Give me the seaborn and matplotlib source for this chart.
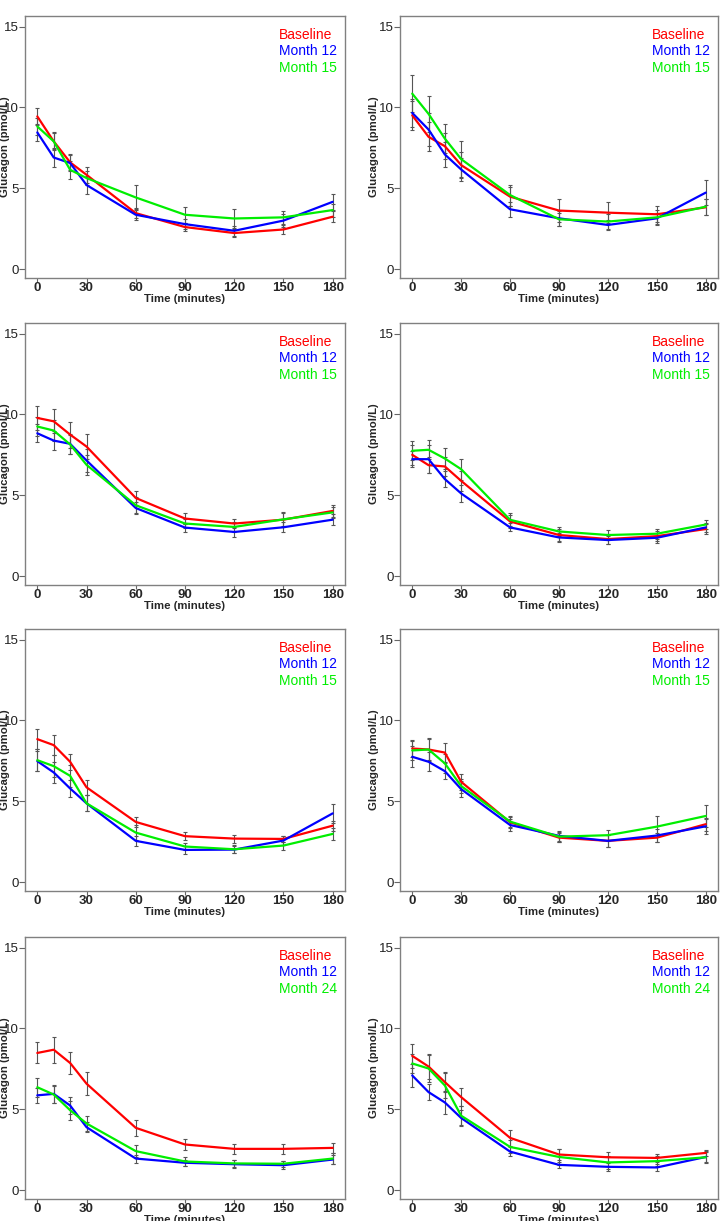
import numpy as np
import pandas as pd
import matplotlib
matplotlib.use('Agg')
import matplotlib.pyplot as plt
import seaborn as sns

sns.set_style('white')
plt.rcParams['font.family'] = ['Liberation Sans', 'DejaVu Sans']

# sampling times (minutes)
times = [0, 10, 20, 30, 60, 90, 120, 150, 180]
xticks = [0, 30, 60, 90, 120, 150, 180]

# mean glucagon per panel (pmol/L)
p1_base = [9.44, 7.9, 6.6, 5.83, 3.46, 2.6, 2.23, 2.45, 3.24]
p1_m12 = [8.45, 6.9, 6.56, 5.2, 3.36, 2.78, 2.37, 3.0, 4.16]
p1_m3 = [8.82, 7.9, 6.14, 5.63, 4.43, 3.36, 3.13, 3.2, 3.65]

p2_base = [9.51, 8.18, 7.6, 6.43, 4.48, 3.62, 3.49, 3.39, 3.82]
p2_m12 = [9.66, 8.63, 7.09, 6.16, 3.7, 3.14, 2.73, 3.14, 4.73]
p2_m3 = [10.85, 9.6, 8.07, 6.8, 4.58, 3.08, 2.94, 3.2, 3.86]

p3_base = [9.78, 9.57, 8.75, 8.01, 4.83, 3.56, 3.25, 3.49, 4.03]
p3_m12 = [8.83, 8.38, 8.18, 7.15, 4.21, 3.0, 2.73, 3.02, 3.49]
p3_m3 = [9.25, 9.0, 8.14, 6.88, 4.38, 3.25, 3.04, 3.51, 3.94]

p4_base = [7.5, 6.86, 6.78, 5.89, 3.38, 2.54, 2.29, 2.47, 2.91]
p4_m12 = [7.23, 7.23, 6.0, 5.11, 3.01, 2.39, 2.23, 2.37, 3.01]
p4_m3 = [7.75, 7.81, 7.27, 6.61, 3.48, 2.76, 2.54, 2.62, 3.19]

p5_base = [8.84, 8.47, 7.44, 5.86, 3.72, 2.84, 2.69, 2.67, 3.49]
p5_m12 = [7.48, 6.78, 5.79, 4.87, 2.55, 1.99, 2.01, 2.57, 4.25]
p5_m3 = [7.54, 7.17, 6.57, 4.87, 3.06, 2.2, 2.03, 2.26, 2.98]

p6_base = [8.26, 8.2, 8.01, 6.2, 3.7, 2.75, 2.55, 2.75, 3.58]
p6_m12 = [7.75, 7.44, 6.86, 5.75, 3.53, 2.86, 2.55, 2.88, 3.45]
p6_m3 = [8.14, 8.2, 7.34, 5.94, 3.74, 2.81, 2.9, 3.43, 4.09]

p7_base = [8.48, 8.68, 7.86, 6.58, 3.85, 2.82, 2.55, 2.55, 2.61]
p7_m12 = [5.86, 5.95, 5.23, 3.89, 1.95, 1.69, 1.6, 1.54, 1.89]
p7_m3 = [6.36, 5.91, 4.94, 4.12, 2.41, 1.77, 1.65, 1.63, 1.95]

p8_base = [8.3, 7.64, 6.68, 5.75, 3.23, 2.2, 2.03, 1.99, 2.3]
p8_m12 = [7.09, 6.06, 5.42, 4.46, 2.38, 1.56, 1.44, 1.4, 2.05]
p8_m3 = [7.83, 7.52, 6.47, 4.6, 2.67, 2.05, 1.71, 1.79, 2.03]

# standard errors
e1_base = [0.55, 0.5, 0.5, 0.5, 0.3, 0.25, 0.25, 0.25, 0.35]
e1_m12 = [0.5, 0.6, 0.5, 0.55, 0.35, 0.3, 0.3, 0.4, 0.5]
e1_m3 = [0.55, 0.55, 0.55, 0.45, 0.75, 0.5, 0.6, 0.4, 0.4]

e2_base = [0.9, 0.9, 0.8, 0.8, 0.6, 0.7, 0.65, 0.5, 0.5]
e2_m12 = [0.85, 1.0, 0.8, 0.7, 0.45, 0.45, 0.3, 0.35, 0.75]
e2_m3 = [1.15, 1.1, 0.9, 1.1, 0.65, 0.4, 0.45, 0.45, 0.5]

e3_base = [0.75, 0.75, 0.8, 0.75, 0.45, 0.35, 0.3, 0.45, 0.35]
e3_m12 = [0.55, 0.6, 0.6, 0.7, 0.4, 0.25, 0.3, 0.3, 0.35]
e3_m3 = [0.6, 0.65, 0.6, 0.6, 0.5, 0.3, 0.3, 0.4, 0.35]

e4_base = [0.6, 0.5, 0.6, 0.6, 0.4, 0.35, 0.3, 0.3, 0.3]
e4_m12 = [0.5, 0.85, 0.5, 0.55, 0.25, 0.3, 0.25, 0.3, 0.3]
e4_m3 = [0.6, 0.6, 0.65, 0.65, 0.4, 0.3, 0.3, 0.3, 0.3]

e5_base = [0.6, 0.6, 0.5, 0.45, 0.3, 0.25, 0.25, 0.2, 0.3]
e5_m12 = [0.6, 0.65, 0.5, 0.5, 0.3, 0.25, 0.2, 0.3, 0.6]
e5_m3 = [0.7, 0.7, 0.7, 0.5, 0.45, 0.2, 0.25, 0.25, 0.35]

e6_base = [0.55, 0.65, 0.6, 0.5, 0.35, 0.3, 0.35, 0.3, 0.4]
e6_m12 = [0.65, 0.6, 0.5, 0.5, 0.4, 0.3, 0.35, 0.4, 0.45]
e6_m3 = [0.6, 0.7, 0.6, 0.45, 0.35, 0.3, 0.35, 0.65, 0.7]

e7_base = [0.65, 0.8, 0.7, 0.7, 0.48, 0.37, 0.33, 0.3, 0.3]
e7_m12 = [0.45, 0.55, 0.55, 0.3, 0.25, 0.2, 0.25, 0.25, 0.25]
e7_m3 = [0.6, 0.5, 0.6, 0.45, 0.35, 0.25, 0.2, 0.2, 0.35]

e8_base = [0.75, 0.75, 0.6, 0.55, 0.5, 0.35, 0.3, 0.25, 0.2]
e8_m12 = [0.7, 0.5, 0.7, 0.5, 0.3, 0.2, 0.25, 0.2, 0.35]
e8_m3 = [0.6, 0.85, 0.8, 0.6, 0.4, 0.5, 0.4, 0.3, 0.3]

panels = [
    ('Month 15', p1_base, p1_m12, p1_m3, e1_base, e1_m12, e1_m3),
    ('Month 15', p2_base, p2_m12, p2_m3, e2_base, e2_m12, e2_m3),
    ('Month 15', p3_base, p3_m12, p3_m3, e3_base, e3_m12, e3_m3),
    ('Month 15', p4_base, p4_m12, p4_m3, e4_base, e4_m12, e4_m3),
    ('Month 15', p5_base, p5_m12, p5_m3, e5_base, e5_m12, e5_m3),
    ('Month 15', p6_base, p6_m12, p6_m3, e6_base, e6_m12, e6_m3),
    ('Month 24', p7_base, p7_m12, p7_m3, e7_base, e7_m12, e7_m3),
    ('Month 24', p8_base, p8_m12, p8_m3, e8_base, e8_m12, e8_m3),
]

W, H = 720, 1221
fig = plt.figure(figsize=(W / 100, H / 100), dpi=100)

col_left = [25, 400]
col_width = [320, 318]
ylab_x = [-0.048, -0.066]
row_top = [16, 323, 629, 937]
row_height = 262

for i, (last, base, m12, m3, eb, e12, e3) in enumerate(panels):
    r, c = divmod(i, 2)
    ax = fig.add_axes([col_left[c] / W, 1 - (row_top[r] + row_height) / H,
                       col_width[c] / W, row_height / H])
    groups = ['Baseline', 'Month 12', last]
    df = pd.DataFrame({
        'time': times * 3,
        'glucagon': base + m12 + m3,
        'se': eb + e12 + e3,
        'group': [g for g in groups for _ in times],
    })
    pal = dict(zip(groups, ['#ff0000', '#0000ff', '#00ee00']))

    for g in groups:
        d = df[df['group'] == g]
        ax.errorbar(d['time'], d['glucagon'], yerr=d['se'], fmt='none',
                    ecolor='#555555', elinewidth=0.8, capsize=1.3, capthick=0.8, zorder=1)
    sns.lineplot(data=df, x='time', y='glucagon', hue='group', palette=pal,
                 hue_order=groups, linewidth=1.6, errorbar=None, ax=ax, zorder=3)

    ax.set_xlim(-7.5, 187.5)
    ax.set_ylim(-0.55, 15.65)
    ax.set_xticks(xticks)
    ax.set_yticks([0, 5, 10, 15])
    ax.set_xticklabels([str(t) for t in xticks], fontweight='bold', fontsize=9.5)
    ax.set_yticklabels(['0', '5', '10', '15'], fontsize=9.5, color='#222222')
    ax.set_xlabel('Time (minutes)', fontweight='bold', fontsize=8.2, labelpad=0)
    ax.set_ylabel('Glucagon (pmol/L)', fontweight='bold', fontsize=8.2)
    ax.yaxis.set_label_coords(ylab_x[c], 0.5)
    ax.tick_params(axis='x', bottom=True, length=3, width=0.8, color='#666666', pad=0)
    ax.tick_params(axis='y', left=True, length=4, width=0.8, color='#666666', pad=0.5)
    for s in ax.spines.values():
        s.set_color('#808080')
        s.set_linewidth(1.0)

    leg = ax.legend(loc='upper right', bbox_to_anchor=(1.0, 0.985), frameon=False,
                    handlelength=0, handletextpad=0, labelcolor='linecolor', fontsize=10,
                    borderaxespad=0.15, labelspacing=0.2, borderpad=0.4)
    for h in leg.legend_handles:
        h.set_visible(False)

fig.savefig('out.png', dpi=100)
